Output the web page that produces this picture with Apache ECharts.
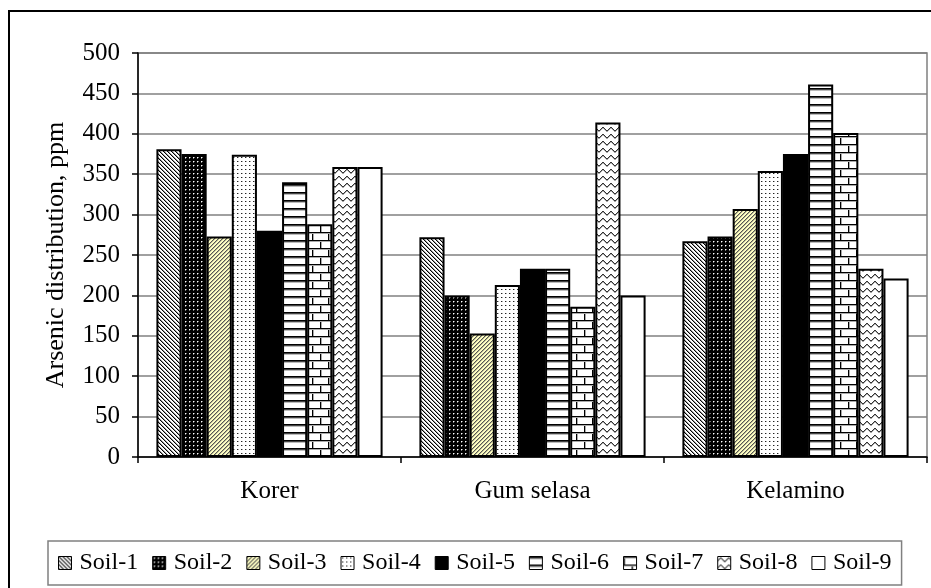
<!DOCTYPE html>
<html>
<head>
<meta charset="utf-8">
<script src="https://cdn.jsdelivr.net/npm/echarts@6/dist/echarts.min.js"></script>
<style>
html,body{margin:0;padding:0;background:#fff;}
#chart{width:931px;height:588px;}
</style>
</head>
<body>
<div id="chart"></div>
<script>
// ---- data ----
const categories = ['Korer', 'Gum selasa', 'Kelamino'];
const soilNames = ['Soil-1','Soil-2','Soil-3','Soil-4','Soil-5','Soil-6','Soil-7','Soil-8','Soil-9'];
const soil1 = [381, 272, 267];
const soil2 = [375, 200, 273];
const soil3 = [273, 153, 307];
const soil4 = [374, 213, 354];
const soil5 = [280, 233, 375];
const soil6 = [340, 233, 461];
const soil7 = [288, 186, 401];
const soil8 = [359, 414, 233];
const soil9 = [359, 200, 221];
const yTicks = [0, 50, 100, 150, 200, 250, 300, 350, 400, 450, 500];
const yTitle = 'Arsenic distribution, ppm';

const soilValues = [soil1, soil2, soil3, soil4, soil5, soil6, soil7, soil8, soil9];

// ---- fill patterns ----
function tile(w, h, bg, fn) {
  const c = document.createElement('canvas');
  c.width = w; c.height = h;
  const ctx = c.getContext('2d');
  ctx.fillStyle = bg; ctx.fillRect(0, 0, w, h);
  for (let y = 0; y < h; y++) for (let x = 0; x < w; x++) {
    const col = fn(x, y);
    if (col) { ctx.fillStyle = col; ctx.fillRect(x, y, 1, 1); }
  }
  return { image: c, repeat: 'repeat' };
}
const waveY = [3, 2, 1, 1, 2, 3, 4, 4];
const fills = [
  tile(4, 4, '#fff', (x, y) => { const d = ((x - y) % 4 + 4) % 4; return d === 0 ? '#000' : d === 1 ? '#999' : null; }),
  tile(4, 4, '#000', (x, y) => (x === 1 && y === 1) ? '#fff' : ((x === 2 && y === 1) || (x === 1 && y === 2)) ? '#777' : null),
  tile(4, 4, '#ffffc4', (x, y) => { const d = (x + y) % 4; return d === 0 ? '#555' : d === 1 ? '#b8b890' : null; }),
  tile(4, 4, '#fff', (x, y) => (x === 1 && y === 1) ? '#222' : (x === 2 && y === 1) ? '#aaa' : null),
  '#000',
  tile(1, 8, '#fff', (x, y) => y === 0 ? '#000' : y === 1 ? '#444' : y === 2 ? '#bbb' : null),
  tile(16, 16, '#fff', (x, y) => {
    if (y === 0 || y === 8) return '#000';
    if (y === 1 || y === 9) return '#aaa';
    if (y < 8 && x === 0) return '#000';
    if (y > 8 && x === 8) return '#000';
    if (y < 8 && x === 1) return '#aaa';
    if (y > 8 && x === 9) return '#aaa';
    return null;
  }),
  tile(8, 7, '#fff', (x, y) => y === waveY[x] ? '#333' : y === waveY[x] + 1 ? '#aaa' : null),
  '#fff'
];

const FONT = '"Liberation Serif", "Times New Roman", serif';

const series = soilNames.map((name, i) => ({
  name: name,
  type: 'bar',
  data: soilValues[i],
  barGap: '0%',
  barCategoryGap: '14%',
  itemStyle: { color: fills[i], borderColor: '#000', borderWidth: 2 },
  emphasis: { disabled: true },
  animation: false
}));

const chart = echarts.init(document.getElementById('chart'), null, { renderer: 'canvas' });
chart.setOption({
  animation: false,
  backgroundColor: '#fff',
  grid: { left: 138, right: 4, top: 53, bottom: 131, show: true, borderColor: '#808080', borderWidth: 1.5, backgroundColor: 'transparent' },
  xAxis: {
    type: 'category',
    data: categories,
    axisLine: { lineStyle: { color: '#000', width: 1.5 } },
    axisTick: { show: true, length: 6, lineStyle: { color: '#000', width: 1.5 } },
    axisLabel: { color: '#000', fontFamily: FONT, fontSize: 25, margin: 22 },
    splitLine: { show: false }
  },
  yAxis: {
    type: 'value',
    min: yTicks[0],
    max: yTicks[yTicks.length - 1],
    interval: yTicks[1] - yTicks[0],
    name: yTitle,
    nameLocation: 'middle',
    nameRotate: 90,
    nameGap: 69,
    nameTextStyle: { color: '#000', fontFamily: FONT, fontSize: 26 },
    axisLine: { show: true, lineStyle: { color: '#000', width: 1.5 } },
    axisTick: { show: true, length: 6, lineStyle: { color: '#000', width: 1.5 } },
    axisLabel: { color: '#000', fontFamily: FONT, fontSize: 25, margin: 18 },
    splitLine: { show: true, lineStyle: { color: '#808080', width: 1.5 } }
  },
  legend: {
    data: soilNames,
    left: 48,
    top: 541,
    orient: 'horizontal',
    icon: 'rect',
    itemWidth: 13,
    itemHeight: 13,
    itemGap: 14,
    padding: [10, 10, 10, 10],
    backgroundColor: '#fff',
    borderColor: '#808080',
    borderWidth: 1.5,
    borderRadius: 0,
    selectedMode: false,
    itemStyle: { borderColor: '#000', borderWidth: 1 },
    textStyle: { color: '#000', fontFamily: FONT, fontSize: 24, padding: [0, 0, 0, 3] }
  },
  graphic: [{
    type: 'rect',
    silent: true,
    shape: { x: 9, y: 11, width: 960, height: 640 },
    style: { fill: null, stroke: '#000', lineWidth: 2 }
  }],
  series: series
});
</script>
</body>
</html>
